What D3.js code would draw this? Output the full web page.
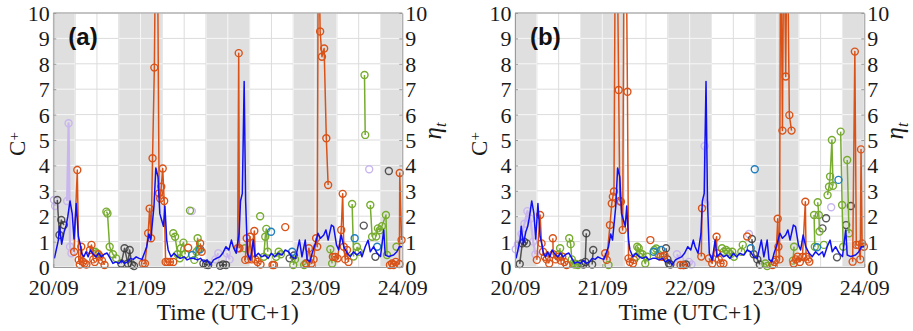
<!DOCTYPE html>
<html><head><meta charset="utf-8">
<script src="https://cdn.jsdelivr.net/npm/d3@7"></script>
<style>
body{margin:0;background:#fff;}
svg{display:block;}
</style></head><body>
<svg id="chart" width="913" height="331"></svg>
<script>
// ---------------- DATA ----------------
const dayLabels = ["20/09","21/09","22/09","23/09","24/09"];
const dayHours = [0,24,48,72,96];
const gridHours = [0,6,12,18,24,30,36,42,48,54,60,66,72,78,84,90,96];
const nightSpans = [[0,6],[18,30],[42,54],[66,78],[90,96]];
const yTicks = [0,1,2,3,4,5,6,7,8,9,10];
const panelLabels = ["(a)","(b)"];

// eta_t (blue line), hours since 20/09 00:00
const etaBlue = [[0.3,0.34],[1.4,1.06],[1.7,1.6],[2.3,0.9],[3.0,1.4],[3.5,1.6],[4.0,2.0],[4.6,2.6],[5.2,2.1],[5.7,1.1],[6.3,2.5],[6.9,1.2],[7.4,0.9],[7.8,0.54],[8.4,0.4],[9.0,0.6],[9.6,0.4],[10.2,0.67],[11.0,0.5],[11.8,0.4],[12.5,0.55],[13.2,0.4],[14.0,0.5],[14.8,0.55],[15.6,0.35],[16.4,0.14],[17.2,0.2],[18.0,0.14],[18.8,0.25],[19.6,0.14],[20.4,0.2],[21.2,0.34],[22.0,0.3],[22.8,0.4],[23.6,0.34],[24.4,0.3],[25.2,0.6],[25.7,0.8],[26.3,1.3],[26.8,1.06],[27.3,1.8],[27.7,2.4],[28.2,3.9],[28.8,3.55],[29.3,2.1],[29.8,1.85],[30.3,1.6],[30.7,2.4],[31.2,1.06],[31.6,0.67],[32.4,0.4],[33.2,0.54],[34.2,0.4],[35.0,0.34],[36.0,0.4],[36.8,0.28],[37.8,0.34],[38.7,0.34],[39.6,0.28],[40.5,0.34],[41.4,0.2],[42.3,0.28],[43.2,0.08],[44.1,0.28],[45.0,0.35],[45.8,0.4],[46.6,0.54],[47.5,0.8],[48.3,0.67],[49.0,1.06],[49.5,0.8],[50.3,0.54],[51.1,1.3],[51.5,2.6],[52.0,2.9],[52.5,7.3],[52.9,2.6],[53.4,0.54],[54.2,0.27],[55.0,1.06],[55.5,0.4],[56.4,0.54],[57.3,0.4],[58.2,0.47],[59.1,0.34],[60.0,0.54],[60.9,0.4],[61.8,0.54],[62.9,0.47],[63.8,0.67],[64.7,0.6],[65.6,0.4],[66.6,0.34],[67.7,1.06],[68.4,0.4],[69.3,1.06],[69.8,0.3],[70.6,0.2],[71.2,0.54],[72.1,0.93],[72.8,1.33],[73.5,1.13],[74.4,1.26],[75.0,1.46],[75.6,1.06],[76.5,1.65],[77.1,1.59],[77.9,0.87],[78.5,0.67],[79.2,1.26],[79.9,0.8],[80.8,0.55],[81.7,0.41],[82.6,0.6],[83.5,0.47],[84.5,0.6],[84.9,0.4],[85.8,0.8],[86.6,1.06],[87.2,0.6],[88.1,0.8],[89.1,0.54],[90.0,0.41],[90.9,1.46],[91.3,0.47],[92.3,0.41],[93.6,0.47],[94.5,0.6],[95.2,0.8],[96,0.8]];

// Panel (a) C+ event series (segments of [hour, value])
const orangeA = [
 [[5.7,0.6],[6.6,3.82],[7.0,0.28],[7.3,0.1],[7.7,0.8],[8.2,0.2],[8.6,0.14],[9.1,0.1]],
 [[10.1,0.67],[10.5,0.87],[11.0,0.3],[11.4,0.2]],
 [[12.4,0.5],[12.8,0.41],[13.4,0.25],[14.1,0.08]],
 [[24.6,0.14],[25.2,0.14],[26.1,1.33],[26.5,2.3],[26.9,1.13],[27.3,4.28],[27.8,7.85],[28.2,14],[28.6,14],[29.1,2.9],[29.4,2.7],[29.7,3.16],[30.1,3.88],[30.5,2.6],[30.9,0.2],[31.4,0.2],[32.1,0.2],[33.0,0.2]],
 [[37.1,0.76]],
 [[40.4,0.93],[40.8,0.6]],
 [[50.7,0.74],[51.0,8.42],[51.2,0.74]],
 [[52.8,0.28],[53.2,1.13],[53.6,0.3],[54.1,1.19],[54.6,0.3],[55.3,1.42],[55.6,0.3],[56.2,0.2],[57.0,0.1]],
 [[60.3,0.08],[60.7,0.08]],
 [[63.8,1.57]],
 [[69.6,0.14],[70.3,0.74],[71.0,0.14],[71.6,0.3],[72.3,1.13],[72.6,0.8],[72.9,14],[73.4,9.27],[73.9,8.28],[74.5,8.6],[75.1,5.07],[75.6,3.23]],
 [[76.9,0.4],[77.6,0.4],[78.2,0.34],[79.2,1.46],[79.6,2.88],[79.9,0.8],[80.3,0.3],[80.8,0.67],[81.2,0.2]],
 [[92.6,0.08],[93.2,0.14],[93.6,0.08],[94.2,0.2],[95.2,0.12],[95.3,3.7],[95.8,1.06]]
];
const greenA = [
 [[11.5,0.6],[12.0,0.54]],
 [[14.6,2.18],[14.9,2.11],[15.5,0.8],[16.4,0.5],[17.3,0.34]],
 [[33.0,1.33],[33.5,1.19],[34.2,0.5],[34.8,0.34],[35.1,0.74],[35.8,0.96],[36.3,0.5]],
 [[37.6,2.22]],
 [[38.8,0.28],[39.4,0.6],[39.7,1.13],[40.0,0.7]],
 [[52.7,0.74]],
 [[56.9,2.0]],
 [[57.9,0.4],[58.3,1.19],[58.6,1.5],[59.0,0.6]],
 [[61.3,0.4],[62.0,0.6],[62.6,0.5]],
 [[66.0,0.08],[66.5,0.3]],
 [[69.0,0.08],[69.4,0.14]],
 [[76.2,0.7],[76.7,0.14]],
 [[82.2,2.48],[82.6,0.41]],
 [[83.5,0.8],[84.0,0.6]],
 [[85.6,7.56],[85.8,5.2]],
 [[87.2,2.44],[87.7,1.19]],
 [[88.8,1.2],[89.3,1.52],[89.8,1.45],[90.4,1.61],[91.5,2.05],[91.8,0.47]],
 [[94.4,0.8]]
];
const blackA = [
 [[1.1,2.64],[1.7,1.26],[2.2,1.85],[2.9,1.65]],
 [[18.7,0.14],[19.6,0.74],[20.5,0.14],[21.0,0.67],[21.6,0.1],[22.2,0.04]],
 [[41.3,0.14],[42.0,0.1],[42.6,0.08]],
 [[45.9,0.05],[46.7,0.1],[47.5,0.08]],
 [[65.0,0.34],[66.2,0.45]],
 [[85.4,1.63]],
 [[88.6,0.4]],
 [[92.3,3.78]]
];
const tealA = [[[38.2,0.47]],[[40.4,0.7]],[[59.9,1.39]],[[65.7,0.6]],[[82.9,1.13]],[[89.1,0.8]]];
const lavenderA = [
 [[0.2,2.64],[0.5,2.4]],
 [[3.8,2.6],[4.2,5.66],[4.6,0.8],[5.0,0.54]],
 [[38.1,2.2]],
 [[44.6,0.3],[45.4,0.54]],
 [[47.7,0.54],[48.5,0.3]],
 [[86.9,3.85]]
];

// Panel (b) C+ event series
const orangeB = [
 [[6.0,0.28],[6.9,2.05],[7.3,0.93],[7.7,0.6],[8.2,0.4],[8.7,0.3],[9.4,0.14]],
 [[10.4,1.13],[10.5,0.5],[11.2,0.3],[11.9,0.41],[12.6,0.25],[13.0,0.41],[13.6,0.2],[14.2,0.08]],
 [[24.8,0.54],[25.2,0.28],[26.1,1.65],[26.6,2.5],[26.9,2.77],[27.2,2.97],[27.6,14],[28.0,14],[28.5,6.97],[28.8,2.6],[29.1,2.57],[29.6,1.46],[30.0,14],[30.5,14],[30.9,6.9],[31.2,0.34],[31.6,0.2],[32.4,0.14],[32.7,0.28]],
 [[37.2,1.06]],
 [[40.0,0.41],[40.6,0.4],[41.1,0.45]],
 [[45.5,0.08],[46.2,0.08]],
 [[51.2,0.41],[51.4,2.31]],
 [[53.3,0.34],[54.2,0.14],[55.4,1.19],[55.5,0.54],[56.0,0.3],[56.5,0.14],[57.3,0.14]],
 [[63.8,1.2]],
 [[70.8,0.08],[71.3,0.2],[71.7,0.28],[72.2,1.9],[72.4,0.8],[72.7,0.3],[73.0,14],[73.5,5.37],[73.9,14],[74.4,7.5],[74.8,14],[75.4,5.98],[76.0,5.37]],
 [[76.6,0.14],[77.2,0.3],[77.7,0.41],[78.3,0.2],[79.0,0.4],[79.8,2.57],[80.0,0.41],[80.5,0.3],[80.9,0.21]],
 [[92.8,0.21],[93.4,8.48],[93.8,0.87],[94.4,0.87],[94.9,0.3],[95.1,4.63],[95.4,0.93],[95.9,0.8]]
];
const greenB = [
 [[12.1,0.5],[12.4,0.74]],
 [[14.9,1.13],[15.3,0.9],[15.6,0.3],[16.0,0.14],[16.4,0.1],[16.8,0.12],[17.3,0.08]],
 [[25.7,0.08]],
 [[33.3,0.4],[33.6,0.8],[34.0,0.74],[34.4,0.54],[35.0,0.5],[35.8,0.14],[36.3,0.41]],
 [[38.3,0.67],[38.8,0.73],[39.4,0.5]],
 [[56.9,0.74],[57.4,0.6],[58.0,0.67],[58.6,0.6],[59.2,0.5],[59.7,0.6],[60.2,0.4]],
 [[62.2,0.6],[62.6,0.87]],
 [[68.8,0.14],[69.3,0.04]],
 [[76.4,0.25],[76.7,0.8]],
 [[82.2,2.05],[82.4,0.8]],
 [[83.2,2.55],[83.5,2.05],[83.7,1.4]],
 [[84.9,0.87]],
 [[85.9,2.83],[86.3,3.16],[86.6,3.56],[87.1,5.0],[87.4,3.2]],
 [[89.5,5.33],[89.9,2.44],[90.2,0.8]],
 [[91.3,4.21],[91.8,1.33]]
];
const blackB = [
 [[1.3,0.12],[2.0,0.93],[2.5,1.0],[3.2,0.93]],
 [[18.3,0.14],[18.8,0.1]],
 [[19.3,0.2],[19.6,1.33]],
 [[21.2,0.1],[21.5,0.67]],
 [[41.5,0.74],[41.9,0.3],[42.3,0.14],[42.7,0.1]],
 [[46.4,0.08],[47.0,0.1]],
 [[65.1,1.1],[65.6,0.5],[66.6,0.3],[67.3,0.1]],
 [[84.5,1.52]],
 [[85.5,1.92]],
 [[88.5,0.38]],
 [[91.0,1.65]],
 [[92.3,2.4]]
];
const tealB = [[[38.1,0.6]],[[40.2,0.67]],[[64.8,0.74]],[[65.9,3.85]],[[83.0,0.78]],[[88.9,3.43]]];
const lavenderB = [
 [[0.2,0.7],[0.8,0.9],[1.8,1.3],[2.6,1.7],[3.4,2.2],[4.2,1.9],[5.0,1.0],[5.6,0.5]],
 [[44.5,0.5],[45.3,0.3]],
 [[47.8,0.2],[48.5,0.1]],
 [[52.3,2.5],[52.1,4.76]],
 [[64.3,1.3]],
 [[86.9,2.35]]
];

// ---------------- DRAWING ----------------
const svg = d3.select("#chart");
const TOP = 13, BOTTOM = 267;
const COLORS = {orange:"#D95319", green:"#77AC30", black:"#3a3a3a", teal:"#1f7fc0", lavender:"#c9b6ee", blue:"#1010f0"};

const panels = [
  {label: panelLabels[0], left: 53.3, right: 402.3,
   series: [["lavender", lavenderA], ["black", blackA], ["green", greenA], ["teal", tealA], ["orange", orangeA]]},
  {label: panelLabels[1], left: 515, right: 864.3,
   series: [["lavender", lavenderB], ["black", blackB], ["green", greenB], ["teal", tealB], ["orange", orangeB]]}
];

panels.forEach((p, pi) => {
  const x = d3.scaleLinear().domain([0, 96]).range([p.left, p.right]);
  const y = d3.scaleLinear().domain([0, 10]).range([BOTTOM, TOP]);
  const g = svg.append("g");
  const clipId = "clip" + pi, nightId = "night" + pi;

  const defs = svg.append("defs");
  defs.append("clipPath").attr("id", clipId).append("rect")
    .attr("x", p.left).attr("y", TOP).attr("width", p.right - p.left).attr("height", BOTTOM - TOP);
  const nc = defs.append("clipPath").attr("id", nightId);
  nightSpans.forEach(s => nc.append("rect").attr("x", x(s[0])).attr("y", TOP)
    .attr("width", x(s[1]) - x(s[0])).attr("height", BOTTOM - TOP));

  // light grid on white background
  const grid = g.append("g");
  function gridLines(sel, color) {
    sel.selectAll("line.v").data(gridHours).join("line").attr("class","v")
      .attr("x1", d => x(d)).attr("x2", d => x(d)).attr("y1", TOP).attr("y2", BOTTOM)
      .attr("stroke", color).attr("stroke-width", 1);
    sel.selectAll("line.h").data(yTicks).join("line").attr("class","h")
      .attr("x1", p.left).attr("x2", p.right).attr("y1", d => y(d)).attr("y2", d => y(d))
      .attr("stroke", color).attr("stroke-width", 1);
  }
  gridLines(grid, "#dcdcdc");

  // night shading
  g.append("g").selectAll("rect").data(nightSpans).join("rect")
    .attr("x", d => x(d[0])).attr("y", TOP)
    .attr("width", d => x(d[1]) - x(d[0])).attr("height", BOTTOM - TOP)
    .attr("fill", "#dfdfdf");
  gridLines(g.append("g").attr("clip-path", `url(#${nightId})`), "#f7f7f7");

  // event series
  const line = d3.line().x(d => x(d[0])).y(d => y(d[1]));
  p.series.forEach(([cname, segs]) => {
    const col = COLORS[cname];
    const sg = g.append("g");
    const isLav = cname === "lavender";
    sg.append("g").attr("clip-path", `url(#${clipId})`)
      .selectAll("path").data(segs.filter(s => s.length > 1)).join("path")
      .attr("d", line).attr("fill", "none").attr("stroke", col)
      .attr("stroke-width", isLav ? 2.2 : 1.5).attr("stroke-linejoin", "round")
      .attr("opacity", cname === "black" ? 0.85 : 1);
    sg.selectAll("circle").data(segs.flat().filter(d => d[1] <= 10)).join("circle")
      .attr("cx", d => x(d[0])).attr("cy", d => y(d[1])).attr("r", 3.5)
      .attr("fill", "none").attr("stroke", col).attr("stroke-width", 1.4)
      .attr("opacity", cname === "black" ? 0.85 : 1);
  });

  // blue eta line
  g.append("path").datum(etaBlue).attr("clip-path", `url(#${clipId})`)
    .attr("d", line).attr("fill", "none").attr("stroke", COLORS.blue).attr("stroke-width", 1.5)
    .attr("stroke-linejoin", "round");

  // axes
  const axisColor = "#9a9a9a";
  const fontFam = "'Liberation Serif','Times New Roman',serif";
  const styleAxis = (a) => {
    a.attr("font-family", fontFam);
    a.select(".domain").attr("stroke", axisColor);
    a.selectAll(".tick line").attr("stroke", axisColor);
    a.selectAll("text").attr("fill", "#1a1a1a").style("font-family", fontFam).style("font-size", "22px");
  };
  const la = g.append("g").attr("transform", `translate(${p.left},0)`)
    .call(d3.axisLeft(y).tickValues(yTicks).tickFormat(d3.format("d")).tickSizeInner(-3).tickSizeOuter(0).tickPadding(3.5));
  styleAxis(la); la.selectAll("text").attr("dy", "0.34em");
  const ra = g.append("g").attr("transform", `translate(${p.right},0)`)
    .call(d3.axisRight(y).tickValues(yTicks).tickFormat(d3.format("d")).tickSizeInner(-3).tickSizeOuter(0).tickPadding(3));
  styleAxis(ra); ra.selectAll("text").attr("dy", "0.34em");
  const ba = g.append("g").attr("transform", `translate(0,${BOTTOM})`)
    .call(d3.axisBottom(x).tickValues(dayHours).tickFormat((d, i) => dayLabels[i]).tickSizeInner(-3).tickSizeOuter(0).tickPadding(12.5));
  styleAxis(ba);
  g.append("line").attr("x1", p.left).attr("x2", p.right).attr("y1", TOP).attr("y2", TOP)
    .attr("stroke", axisColor);

  // labels
  g.append("text").attr("x", (p.left + p.right) / 2).attr("y", 320)
    .attr("text-anchor", "middle").style("font-family", fontFam).style("font-size", "23.5px")
    .attr("fill", "#1a1a1a").text("Time (UTC+1)");

  const cl = g.append("text").attr("transform", `translate(${p.left - 28},${144}) rotate(-90)`)
    .attr("text-anchor", "middle").style("font-family", fontFam).style("font-size", "23px").attr("fill", "#1a1a1a");
  cl.append("tspan").text("C");
  cl.append("tspan").attr("dy", "-0.45em").style("font-size", "15px").text("+");

  const el = g.append("text").attr("transform", `translate(${p.right + 39},${131}) rotate(-90)`)
    .attr("text-anchor", "middle").style("font-family", fontFam).style("font-size", "25px").attr("fill", "#1a1a1a");
  el.append("tspan").style("font-style", "italic").text("η");
  el.append("tspan").attr("dy", "0.3em").style("font-size", "16px").style("font-style", "italic").text("t");

  g.append("text").attr("x", p.left + 15).attr("y", 45)
    .style("font-family", "'Liberation Sans',Arial,sans-serif").style("font-weight", "bold")
    .style("font-size", "24px").attr("fill", "#111").text(p.label);
});
</script>
</body></html>
